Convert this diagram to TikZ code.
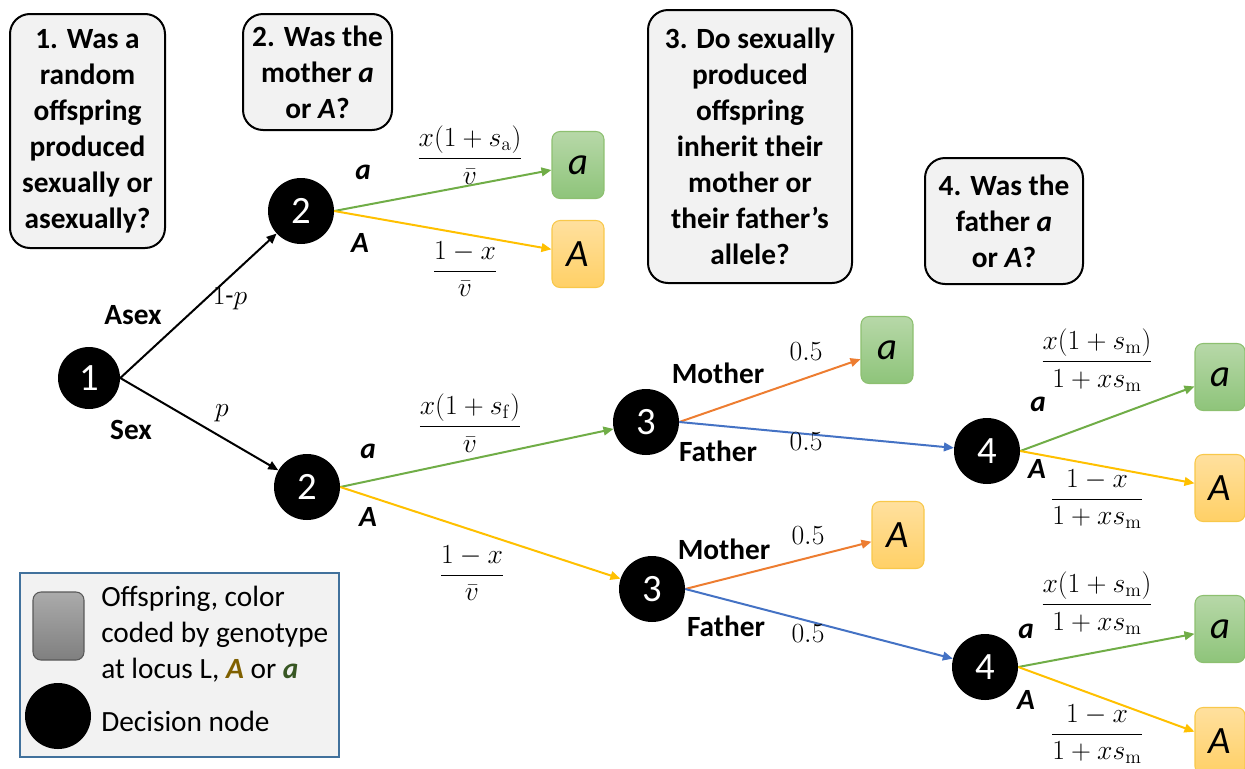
\documentclass[tikz,border=0pt]{standalone}
\usepackage[no-math]{fontspec}
\setmainfont{Carlito}
\usetikzlibrary{arrows.meta}
\definecolor{qfill}{HTML}{F2F2F2}
\definecolor{cgreen}{HTML}{70AD47}
\definecolor{cyellow}{HTML}{FFC000}
\definecolor{corange}{HTML}{ED7D31}
\definecolor{cblue}{HTML}{4472C4}
\definecolor{lgtop}{HTML}{B7D8A8}
\definecolor{lgbot}{HTML}{8EC47A}
\definecolor{lgdraw}{HTML}{8DC070}
\definecolor{lytop}{HTML}{FFE09E}
\definecolor{lybot}{HTML}{FFD066}
\definecolor{lydraw}{HTML}{F8C84A}
\definecolor{legdraw}{HTML}{41719C}
\definecolor{goldA}{HTML}{7F6000}
\definecolor{greena}{HTML}{385723}
\begin{document}
\begin{tikzpicture}[x=0.75pt,y=-0.75pt,
  qbox/.style={draw=black, line width=1.5pt, fill=qfill, rounded corners=15pt, align=center,
    font=\fontsize{22}{27}\selectfont\bfseries, inner sep=0pt},
  dnode/.style={circle, fill=black, text=white, inner sep=0pt, minimum size=49.5pt,
    font=\fontsize{29}{32}\selectfont},
  leafg/.style={draw=lgdraw, line width=0.8pt, rounded corners=6pt, top color=lgtop, bottom color=lgbot,
    minimum width=39pt, minimum height=50.25pt, inner sep=0pt, font=\fontsize{29}{32}\selectfont\itshape},
  leafy/.style={draw=lydraw, line width=0.8pt, rounded corners=6pt, top color=lytop, bottom color=lybot,
    minimum width=39pt, minimum height=50.25pt, inner sep=0pt, font=\fontsize{29}{32}\selectfont\itshape},
  lab/.style={font=\fontsize{22}{27}\selectfont\bfseries, inner sep=0pt},
  ilab/.style={font=\fontsize{22}{27}\selectfont\bfseries\itshape, inner sep=0pt},
  mlab/.style={font=\fontsize{20}{24}\selectfont, inner sep=0pt},
  arr/.style={line width=1.5pt, -{Triangle[length=7.5pt,width=6.5pt]}},
]
\useasboundingbox (0,0) rectangle (1245,768);

% question boxes
\node[qbox, minimum width=116.25pt, minimum height=175.5pt] (q1) at (87.5,131) {1. Was a\\random\\offspring\\produced\\sexually or\\asexually?};
\node[qbox, minimum width=111.75pt, minimum height=87pt] (q2) at (317.5,72) {2. Was the\\mother \textit{a}\\or \textit{A}?};
\node[qbox, minimum width=153pt, minimum height=204.75pt] (q3) at (750,146.5) {3. Do sexually\\produced\\offspring\\inherit their\\mother or\\their father’s\\allele?};
\node[qbox, minimum width=118.5pt, minimum height=94.5pt] (q4) at (1004,221) {4. Was the\\father \textit{a}\\or \textit{A}?};

% decision nodes
\node[dnode, minimum size=46.5pt] (n1) at (89,378) {1};
\node[dnode] (n2a) at (301,211) {2};
\node[dnode] (n2b) at (307,487) {2};
\node[dnode] (n3a) at (646,422) {3};
\node[dnode] (n3b) at (652,589) {3};
\node[dnode] (n4a) at (987,451) {4};
\node[dnode] (n4b) at (985,667) {4};

% leaves
\node[leafg] (l1) at (578,165) {a};
\node[leafy] (l2) at (578,254) {A};
\node[leafg] (l3) at (887,350) {a};
\node[leafy] (l6) at (898,535) {A};
\node[leafg, minimum width=37.5pt] (l4) at (1220,377) {a};
\node[leafy, minimum width=37.5pt] (l5) at (1220,488) {A};
\node[leafg, minimum width=37.5pt] (l7) at (1220,629) {a};
\node[leafy, minimum width=37.5pt] (l8) at (1220,741) {A};

% connectors
\draw[arr, black] (n1.east) -- (n2a);
\draw[arr, black] (n1.east) -- (n2b);
\draw[arr, cgreen] (n2a.east) -- (l1);
\draw[arr, cyellow] (n2a.east) -- (l2);
\draw[arr, cgreen] (n2b.east) -- (n3a);
\draw[arr, cyellow] (n2b.east) -- (n3b);
\draw[arr, corange] (n3a.east) -- (l3);
\draw[arr, cblue] (n3a.east) -- (n4a);
\draw[arr, corange] (n3b.east) -- (l6);
\draw[arr, cblue] (n3b.east) -- (n4b);
\draw[arr, cgreen] (n4a.east) -- (l4);
\draw[arr, cyellow] (n4a.east) -- (l5);
\draw[arr, cgreen] (n4b.east) -- (l7);
\draw[arr, cyellow] (n4b.east) -- (l8);

% edge labels
\node[lab] (tasex) at (133,315) {Asex};
\node[mlab] (t1p) at (230,298) {$1\hbox{-}p$};
\node[lab] (tsex) at (131,430) {Sex};
\node[mlab] (tp) at (222,413) {$p$};

\node[ilab] (ta1) at (363,172) {a};
\node[ilab] (tA1) at (360,243) {A};
\node[mlab] (f1) at (470,155) {$\displaystyle\frac{x(1+s_\mathrm{a})}{\bar{v}}$};
\node[mlab] (f2) at (465,269) {$\displaystyle\frac{1-x}{\bar{v}}$};

\node[ilab] (ta2) at (368,451) {a};
\node[ilab] (tA2) at (368,517) {A};
\node[mlab] (f3) at (470,423) {$\displaystyle\frac{x(1+s_\mathrm{f})}{\bar{v}}$};
\node[mlab] (f4) at (472,573) {$\displaystyle\frac{1-x}{\bar{v}}$};

\node[lab] (tm1) at (718,373) {Mother};
\node[mlab] (h1) at (806,352) {$0.5$};
\node[lab] (tf1) at (718,451) {Father};
\node[mlab] (h2) at (806,442) {$0.5$};

\node[lab] (tm2) at (724,549) {Mother};
\node[mlab] (h3) at (808,536) {$0.5$};
\node[lab] (tf2) at (726,626) {Father};
\node[mlab] (h4) at (808,634) {$0.5$};

\node[ilab] (ta3) at (1038,404) {a};
\node[ilab] (tA3) at (1037,469) {A};
\node[mlab] (f5) at (1097,360) {$\displaystyle\frac{x(1+s_\mathrm{m})}{1+xs_\mathrm{m}}$};
\node[mlab] (f6) at (1097,499) {$\displaystyle\frac{1-x}{1+xs_\mathrm{m}}$};

\node[ilab] (ta4) at (1026,631) {a};
\node[ilab] (tA4) at (1026,700) {A};
\node[mlab] (f7) at (1097,603) {$\displaystyle\frac{x(1+s_\mathrm{m})}{1+xs_\mathrm{m}}$};
\node[mlab] (f8) at (1097,734) {$\displaystyle\frac{1-x}{1+xs_\mathrm{m}}$};

% legend
\node[draw=legdraw, line width=1.5pt, fill=qfill, minimum width=239.25pt, minimum height=138pt, inner sep=0pt] (leg) at (179.5,665) {};
\node[draw=black!65, line width=0.8pt, rounded corners=6pt, top color=black!33, bottom color=black!50,
  minimum width=38.25pt, minimum height=51pt, inner sep=0pt] (legbox) at (58.5,626) {};
\node[circle, fill=black, minimum size=49.5pt, inner sep=0pt] (legcirc) at (58,716) {};
\node[font=\fontsize{22}{27}\selectfont, align=left, anchor=north west, inner sep=0pt] (legtxt) at (101,586)
  {Offspring, color\\coded by genotype\\at locus L, \textcolor{goldA}{\textbf{\textit{A}}} or \textcolor{greena}{\textbf{\textit{a}}}};
\node[font=\fontsize{22}{27}\selectfont, anchor=west, inner sep=0pt] (legtxt2) at (101,721) {Decision node};
\end{tikzpicture}
\end{document}
